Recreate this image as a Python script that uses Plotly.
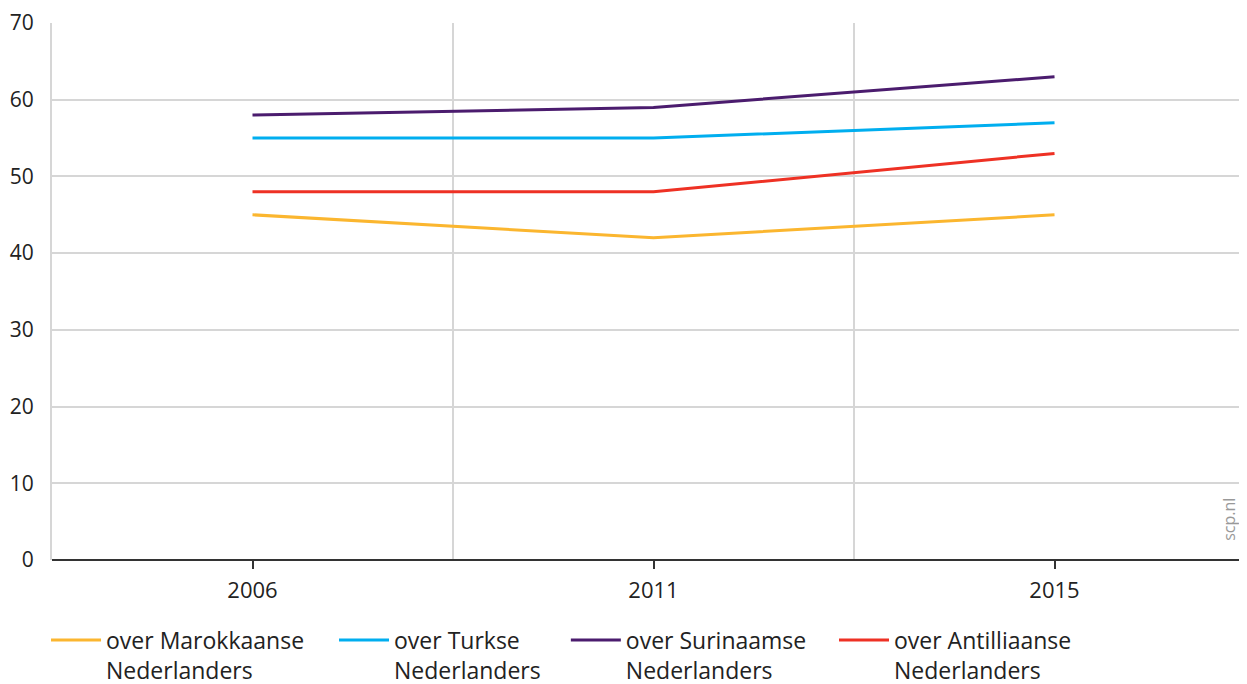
import plotly.graph_objs as go

years = ["2006", "2011", "2015"]
series_names = [
    "over Marokkaanse<br>Nederlanders",
    "over Turkse<br>Nederlanders",
    "over Surinaamse<br>Nederlanders",
    "over Antilliaanse<br>Nederlanders",
]
marokkaans = [45, 42, 45]
turks = [55, 55, 57]
surinaams = [58, 59, 63]
antilliaans = [48, 48, 53]
colors = ["#FBB62F", "#00AEEF", "#4B1C6E", "#EE3124"]
y_ticks = [0, 10, 20, 30, 40, 50, 60, 70]

# one legend per series so each entry can sit where the reference has it
legend_ids = ["legend", "legend2", "legend3", "legend4"]
legend_x = [-0.005, 0.236, 0.430, 0.6544]

x_pos = list(range(len(years)))
fig = go.Figure()
for name, vals, col, lid in zip(series_names, [marokkaans, turks, surinaams, antilliaans], colors, legend_ids):
    fig.add_trace(go.Scatter(
        x=x_pos, y=vals, mode="lines", name=name, legend=lid,
        line=dict(color=col, width=3),
    ))

legend_style = dict(
    orientation="h", xanchor="left", y=-0.109, yanchor="top", valign="top",
    font=dict(size=23, color="#222"), itemwidth=50, bgcolor="rgba(0,0,0,0)",
)
legends = {lid: dict(x=lx, **legend_style) for lid, lx in zip(legend_ids, legend_x)}

# the page body adds an 8px margin, so the figure is shifted up/left by 8px
fig.update_layout(
    width=1247, height=684,
    margin=dict(l=44, r=8, t=15, b=132, autoexpand=False),
    plot_bgcolor="white", paper_bgcolor="white",
    font=dict(family="Open Sans", size=20, color="#222"),
    showlegend=True,
    xaxis=dict(
        range=[-0.5, 2.48], tickvals=x_pos, ticktext=years,
        showgrid=False, zeroline=False, automargin=False,
        ticks="outside", ticklen=8, tickwidth=2, tickcolor="#333",
        showline=False, ticklabelstandoff=3,
        tickfont=dict(size=22, color="#222"),
        minor=dict(tickvals=[0.5, 1.5], showgrid=True, gridcolor="#d6d6d6", gridwidth=2, ticks=""),
    ),
    yaxis=dict(
        range=[0, 70], tickvals=y_ticks, showgrid=True, gridcolor="#d6d6d6", gridwidth=2,
        zeroline=True, zerolinecolor="#333", zerolinewidth=2, automargin=False,
        showline=True, linecolor="#d6d6d6", linewidth=2,
        ticks="", ticklabelstandoff=12,
        tickfont=dict(size=21, color="#222"),
    ),
    annotations=[dict(
        text="scp.nl", xref="paper", yref="paper", x=0.985, y=0.075,
        xanchor="center", yanchor="middle", textangle=-90, showarrow=False,
        font=dict(size=16, color="#999"),
    )],
    **legends,
)

fig.write_html("out.html")
